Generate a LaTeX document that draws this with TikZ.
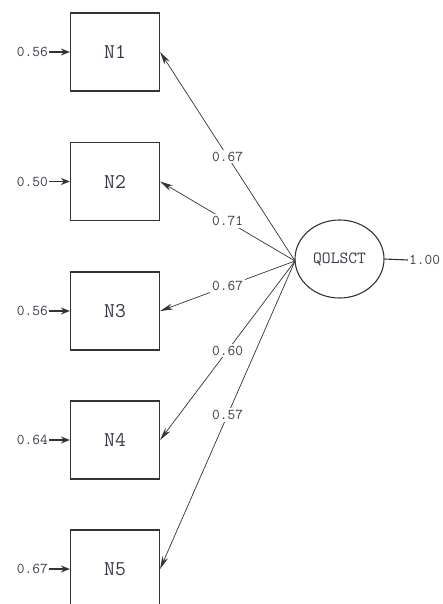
\documentclass[tikz,border=0pt]{standalone}
\usepackage{fontspec}
\usetikzlibrary{shapes.geometric,arrows.meta}
\definecolor{txt}{HTML}{3A3848}
\definecolor{ln}{HTML}{333333}
\begin{document}
\begin{tikzpicture}[x=1pt,y=-1pt,
  obs/.style={draw=ln,line width=1.2pt,minimum width=89pt,minimum height=78pt,inner sep=0pt,font=\ttfamily\fontsize{21}{21}\selectfont,text=txt},
  lat/.style={ellipse,draw=ln,line width=1.1pt,minimum width=89pt,minimum height=78pt,inner sep=0pt,font=\ttfamily\fontsize{17}{17}\selectfont,text=txt},
  val/.style={font=\ttfamily\fontsize{15}{15}\selectfont,text=txt,inner sep=1pt},
  lval/.style={val,fill=white,inner sep=2pt},
  load/.style={draw=ln,line width=0.7pt,-{Stealth[length=13pt,width=6pt]}},
  err/.style={draw=ln,line width=1.3pt,-{Stealth[length=9pt,width=7pt]}}]
\useasboundingbox (0,0) rectangle (443,604);
\clip (0,0) rectangle (443,604);
\node[obs] (b1) at (115,52) {N1};
\node[obs] (b2) at (115,181.5) {N2};
\node[obs] (b3) at (115,311) {N3};
\node[obs] (b4) at (115,440) {N4};
\node[obs] (b5) at (115,569) {N5};
\node[lat] (q) at (339.5,259) {QOLSCT};
\node[val,anchor=west] (e0) at (408,260) {1.00};
\draw[draw=ln,line width=1.1pt] (q.east) -- (e0.west);
\foreach \i/\v in {1/0.56,2/0.50,3/0.56,4/0.64,5/0.67}{
  \node[val,anchor=east] (e\i) at (49,0|-b\i.west) {\v};
  \draw[err] (e\i.east) -- (b\i.west);
}
\coordinate (s) at (295,261);
\draw[load] (s) -- node[lval,pos=0.5]{0.67} (b1.east);
\draw[load] (s) -- node[lval,pos=0.5]{0.71} (b2.east);
\draw[load] (s) -- node[lval,pos=0.5]{0.67} (b3.east);
\draw[load] (s) -- node[lval,pos=0.5]{0.60} (b4.east);
\draw[load] (s) -- node[lval,pos=0.5]{0.57} (b5.east);
\end{tikzpicture}
\end{document}
